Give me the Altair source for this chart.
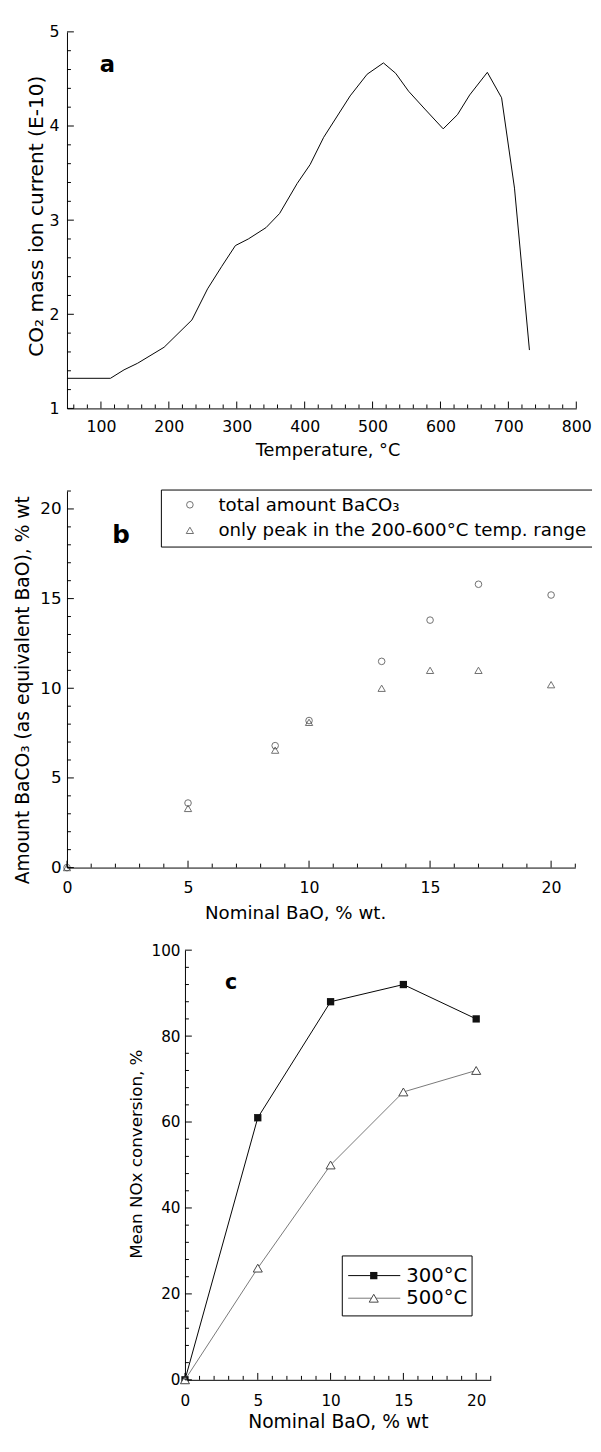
import altair as alt
import pandas as pd

FONT = "DejaVu Sans"

# ---------------- Panel a data ----------------
temp_a = [50, 114, 134, 154, 193, 234, 257, 278, 298, 317, 343, 363, 389, 408,
          428, 467, 492, 516, 534, 553, 577, 604, 625, 643, 669, 690, 709, 731]
co2_a = [1.32, 1.32, 1.41, 1.48, 1.65, 1.94, 2.27, 2.51, 2.73, 2.80, 2.92, 3.07,
         3.39, 3.59, 3.88, 4.32, 4.55, 4.67, 4.56, 4.37, 4.18, 3.97, 4.12, 4.33,
         4.57, 4.30, 3.34, 1.62]
xticks_a = [100, 200, 300, 400, 500, 600, 700, 800]
yticks_a = [1, 2, 3, 4, 5]

# ---------------- Panel b data ----------------
bao_b = [0, 5, 8.6, 10, 13, 15, 17, 20]
total_b = [0, 3.6, 6.8, 8.2, 11.5, 13.8, 15.8, 15.2]
peak_b = [0, 3.3, 6.55, 8.1, 10.0, 11.0, 11.0, 10.2]
legend_b = ["total amount BaCO\u2083", "only peak in the 200-600\u00b0C temp. range"]
xticks_b = [0, 5, 10, 15, 20]
yticks_b = [0, 5, 10, 15, 20]

# ---------------- Panel c data ----------------
bao_c = [0, 5, 10, 15, 20]
conv_300 = [0, 61, 88, 92, 84]
conv_500 = [0, 26, 50, 67, 72]
legend_c = ["300\u00b0C", "500\u00b0C"]
xticks_c = [0, 5, 10, 15, 20]
yticks_c = [0, 20, 40, 60, 80, 100]


def minor(lo, hi, step, majors):
    vals = []
    v = lo
    while v <= hi + 1e-9:
        if all(abs(v - m) > 1e-6 for m in majors):
            vals.append(round(v, 4))
        v += step
    return vals


def axis(title, values, lsize, lpad, tsize, tpad, **kw):
    return alt.Axis(title=title, values=values, ticks=False, tickSize=0, grid=False,
                    domainColor="black", domainWidth=1, labelFont=FONT,
                    labelFontSize=lsize, labelColor="black", labelPadding=lpad,
                    labelFlush=False, labelOverlap=False, titleFont=FONT,
                    titleFontSize=tsize, titleFontWeight="normal", titleColor="black",
                    titlePadding=tpad, format="d", **kw)


def tick_layers(vals_major, vals_minor, orient, scale, ax, h):
    out = []
    for vals, length in ((vals_major, 7), (vals_minor, 4)):
        df = pd.DataFrame({"v": vals})
        if orient == "x":
            out.append(alt.Chart(df).mark_rule(color="black", strokeWidth=1).encode(
                x=alt.X("v:Q", scale=scale, axis=ax),
                y=alt.value(h), y2=alt.value(h - length)))
        else:
            out.append(alt.Chart(df).mark_rule(color="black", strokeWidth=1).encode(
                y=alt.Y("v:Q", scale=scale, axis=ax),
                x=alt.value(0), x2=alt.value(length)))
    return out


def panel_label(txt, x, y, size):
    return alt.Chart(pd.DataFrame({"t": [txt]})).mark_text(
        font=FONT, fontWeight="bold", fontSize=size, color="black",
        align="center", baseline="middle").encode(
        x=alt.value(x), y=alt.value(y), text="t:N")


def one():
    return pd.DataFrame({"k": [0]})


# ================= Panel a =================
W_A, H_A = 518, 383
xs_a = alt.Scale(domain=[50, 800], nice=False, zero=False)
ys_a = alt.Scale(domain=[1, 5], nice=False, zero=False)
xax_a = axis("Temperature, \u00b0C", xticks_a, 16, 10.5, 18, 7, titleX=265)
yax_a = axis("CO\u2082 mass ion current (E-10)", yticks_a, 16, 8, 20.5, 3, titleY=187)
df_a = pd.DataFrame({"T": temp_a, "I": co2_a})
line_a = alt.Chart(df_a).mark_line(color="black", strokeWidth=1).encode(
    x=alt.X("T:Q", scale=xs_a, axis=xax_a),
    y=alt.Y("I:Q", scale=ys_a, axis=yax_a),
    order="T:Q")
layers_a = [line_a]
layers_a += tick_layers(xticks_a, minor(60, 800, 20, xticks_a), "x", xs_a, xax_a, H_A)
layers_a += tick_layers(yticks_a, minor(1, 5, 0.2, yticks_a), "y", ys_a, yax_a, H_A)
layers_a.append(panel_label("a", 41, 34, 23))
panel_a = alt.layer(*layers_a).properties(width=W_A, height=H_A)

# ================= Panel b =================
W_B, H_B = 517, 383
xs_b = alt.Scale(domain=[0, 21], nice=False, zero=False)
ys_b = alt.Scale(domain=[0, 21], nice=False, zero=False)
xax_b = axis("Nominal BaO, % wt.", xticks_b, 16, 12, 18.5, 9, titleX=232)
yax_b = axis("Amount BaCO\u2083  (as equivalent BaO), % wt", yticks_b, 17, 6, 19, 8,
             titleY=202)
df_b = pd.DataFrame({"x": bao_b, "tot": total_b, "pk": peak_b})
pts_tot = alt.Chart(df_b).mark_point(shape="circle", filled=False, color="#333",
                                     size=45, strokeWidth=1).encode(
    x=alt.X("x:Q", scale=xs_b, axis=xax_b),
    y=alt.Y("tot:Q", scale=ys_b, axis=yax_b))
pts_pk = alt.Chart(df_b).mark_point(shape="triangle-up", filled=False, color="#333",
                                    size=55, strokeWidth=1).encode(
    x=alt.X("x:Q", scale=xs_b, axis=xax_b),
    y=alt.Y("pk:Q", scale=ys_b, axis=yax_b))
layers_b = [pts_tot, pts_pk]
layers_b += tick_layers(xticks_b, minor(1, 21, 1, xticks_b), "x", xs_b, xax_b, H_B)
layers_b += tick_layers(yticks_b, minor(1, 21, 1, yticks_b), "y", ys_b, yax_b, H_B)
layers_b.append(panel_label("b", 55, 45, 25))
# legend b (box open on the right, as it is clipped in the original)
leg_b = [
    alt.Chart(one()).mark_rule(color="black", strokeWidth=1).encode(
        x=alt.value(96), x2=alt.value(534), y=alt.value(-1)),
    alt.Chart(one()).mark_rule(color="black", strokeWidth=1).encode(
        x=alt.value(96), x2=alt.value(534), y=alt.value(57)),
    alt.Chart(one()).mark_rule(color="black", strokeWidth=1).encode(
        x=alt.value(96), y=alt.value(-1), y2=alt.value(57)),
    alt.Chart(one()).mark_point(shape="circle", filled=False, color="#333",
                                size=45, strokeWidth=1).encode(
        x=alt.value(125), y=alt.value(14)),
    alt.Chart(one()).mark_point(shape="triangle-up", filled=False,
                                color="#333", size=55, strokeWidth=1).encode(
        x=alt.value(125), y=alt.value(40)),
]
leg_b += [
    alt.Chart(pd.DataFrame({"t": [legend_b[i]]})).mark_text(
        font=FONT, fontSize=18.5, color="black", align="left", baseline="middle").encode(
        x=alt.value(154), y=alt.value(yy), text="t:N")
    for i, yy in enumerate([14, 40])
]
layers_b += leg_b
panel_b = alt.layer(*layers_b).properties(width=W_B, height=H_B)

# ================= Panel c =================
W_C, H_C = 311, 437
xs_c = alt.Scale(domain=[0, 21], nice=False, zero=False)
ys_c = alt.Scale(domain=[0, 100], nice=False, zero=False)
xax_c = axis("Nominal BaO, % wt", xticks_c, 15.5, 14, 19, 4)
yax_c = axis("Mean NOx conversion, %", yticks_c, 15.5, 5, 17, 6, titleY=207)
df_c = pd.DataFrame({"x": bao_c, "c300": conv_300, "c500": conv_500})
line_500 = alt.Chart(df_c).mark_line(color="#777", strokeWidth=1).encode(
    x=alt.X("x:Q", scale=xs_c, axis=xax_c),
    y=alt.Y("c500:Q", scale=ys_c, axis=yax_c))
line_300 = alt.Chart(df_c).mark_line(color="black", strokeWidth=1).encode(
    x=alt.X("x:Q", scale=xs_c, axis=xax_c),
    y=alt.Y("c300:Q", scale=ys_c, axis=yax_c))
pts_300 = alt.Chart(df_c).mark_point(shape="square", filled=True, color="#111",
                                     size=55, opacity=1).encode(
    x=alt.X("x:Q", scale=xs_c, axis=xax_c),
    y=alt.Y("c300:Q", scale=ys_c, axis=yax_c))
pts_500 = alt.Chart(df_c).mark_point(shape="triangle-up", filled=True, fill="white",
                                     stroke="#444", strokeWidth=1, size=85, opacity=1).encode(
    x=alt.X("x:Q", scale=xs_c, axis=xax_c),
    y=alt.Y("c500:Q", scale=ys_c, axis=yax_c))
layers_c = [line_500, line_300, pts_300, pts_500]
layers_c += tick_layers(xticks_c, minor(1, 21, 1, xticks_c), "x", xs_c, xax_c, H_C)
layers_c += tick_layers(yticks_c, minor(4, 96, 4, yticks_c), "y", ys_c, yax_c, H_C)
layers_c.append(panel_label("c", 47, 33, 21))
# legend c
leg_c = [
    alt.Chart(one()).mark_rect(fill="white", stroke="black", strokeWidth=1).encode(
        x=alt.value(160), x2=alt.value(292), y=alt.value(311), y2=alt.value(372)),
    alt.Chart(one()).mark_rule(color="black", strokeWidth=1).encode(
        x=alt.value(166), x2=alt.value(219), y=alt.value(331)),
    alt.Chart(one()).mark_rule(color="#777", strokeWidth=1).encode(
        x=alt.value(166), x2=alt.value(219), y=alt.value(354)),
    alt.Chart(one()).mark_point(shape="square", filled=True,
                                color="#111", size=55, opacity=1).encode(
        x=alt.value(192), y=alt.value(331)),
    alt.Chart(one()).mark_point(shape="triangle-up", filled=True,
                                fill="white", stroke="#444", strokeWidth=1,
                                size=85, opacity=1).encode(
        x=alt.value(192), y=alt.value(354)),
]
leg_c += [
    alt.Chart(pd.DataFrame({"t": [legend_c[i]]})).mark_text(
        font=FONT, fontSize=20, color="black", align="left", baseline="middle").encode(
        x=alt.value(225), y=alt.value(yy), text="t:N")
    for i, yy in enumerate([331, 354])
]
layers_c += leg_c
panel_c = alt.layer(*layers_c).properties(width=W_C, height=H_C)

spacer = alt.Chart(one()).mark_point(opacity=0).encode(
    x=alt.X("k:Q", axis=None), y=alt.Y("k:Q", axis=None)).properties(width=100, height=10)

row_c = alt.hconcat(spacer, panel_c, spacing=20, bounds="flush")

chart = alt.vconcat(panel_a, panel_b, row_c, spacing=84, bounds="flush").properties(
    padding={"left": 4, "top": 3, "right": 0, "bottom": 0},
    background="white",
).configure_view(stroke="transparent")

chart.save("out.html", embed_options={"renderer": "svg", "actions": False})
